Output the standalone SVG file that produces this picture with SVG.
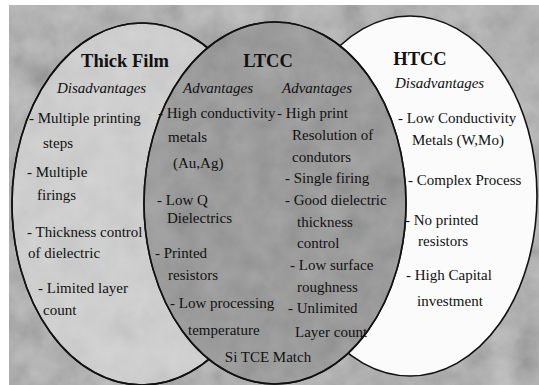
<svg xmlns="http://www.w3.org/2000/svg" width="539" height="385" viewBox="0 0 539 385">
<defs>
<filter id="noise" x="0" y="0" width="100%" height="100%">
<feTurbulence type="fractalNoise" baseFrequency="0.035" numOctaves="4" seed="7"/>
<feColorMatrix type="matrix" values="0.33 0.33 0.33 0 0  0.33 0.33 0.33 0 0  0.33 0.33 0.33 0 0  0 0 0 0 1"/>
</filter>
<clipPath id="clipTF"><ellipse cx="142" cy="204" rx="130" ry="181"/></clipPath>
<clipPath id="clipLT"><ellipse cx="275" cy="203" rx="131" ry="181"/></clipPath>
<style>
.ring{stroke:#111;stroke-width:1.6}
text{font-family:"Liberation Serif","Times New Roman",serif;fill:#111;font-size:15px}
.title{font-weight:bold;font-size:18.5px;text-anchor:middle}
.sub{font-style:italic;font-size:15px}
</style>
</defs>
<rect x="0" y="0" width="539" height="385" fill="#ffffff"/>
<rect x="9" y="5" width="530" height="380" fill="#a9a9a9"/>
<rect x="9" y="5" width="530" height="380" filter="url(#noise)" opacity="0.45"/>

<g id="thick-film">
<ellipse class="ring" cx="142" cy="204" rx="130" ry="181" fill="#d2d2d2"/>
<rect x="10" y="20" width="265" height="365" filter="url(#noise)" opacity="0.18" clip-path="url(#clipTF)"/>
<ellipse cx="142" cy="204" rx="130" ry="181" fill="none" class="ring"/>
<text class="title" x="125" y="67">Thick Film</text>
<text class="sub" x="57" y="93">Disadvantages</text>
<text x="29" y="123">- Multiple printing</text>
<text x="43" y="148">steps</text>
<text x="27" y="177">- Multiple</text>
<text x="37" y="200">firings</text>
<text x="27" y="237">- Thickness control</text>
<text x="28" y="258">of dielectric</text>
<text x="38" y="293">- Limited layer</text>
<text x="43" y="315">count</text>
</g>

<g id="htcc">
<ellipse class="ring" cx="410" cy="196" rx="127" ry="180" fill="#fbfbfb"/>
<text class="title" x="420" y="65">HTCC</text>
<text class="sub" x="395" y="88">Disadvantages</text>
<text x="398" y="123">- Low Conductivity</text>
<text x="412" y="145">Metals  (W,Mo)</text>
<text x="408" y="185">- Complex Process</text>
<text x="405" y="225">- No printed</text>
<text x="418" y="246">resistors</text>
<text x="406" y="280">- High Capital</text>
<text x="417" y="306">investment</text>
</g>

<g id="ltcc">
<ellipse class="ring" cx="275" cy="203" rx="131" ry="181" fill="#8e8e8e"/>
<rect x="140" y="20" width="270" height="365" filter="url(#noise)" opacity="0.3" clip-path="url(#clipLT)"/>
<ellipse cx="275" cy="203" rx="131" ry="181" fill="none" class="ring"/>
<text class="title" x="268" y="67">LTCC</text>
<text class="sub" x="183" y="93">Advantages</text>
<text x="158" y="118">- High conductivity</text>
<text x="168" y="142">metals</text>
<text x="173" y="168">(Au,Ag)</text>
<text x="157" y="205">- Low Q</text>
<text x="167" y="223">Dielectrics</text>
<text x="155" y="258">- Printed</text>
<text x="168" y="280">resistors</text>
<text x="170" y="308">- Low processing</text>
<text x="188" y="335">temperature</text>
<text class="sub" x="282" y="93">Advantages</text>
<text x="277" y="118">- High print</text>
<text x="292" y="140">Resolution of</text>
<text x="292" y="162">condutors</text>
<text x="285" y="183">- Single firing</text>
<text x="285" y="205">- Good dielectric</text>
<text x="297" y="227">thickness</text>
<text x="297" y="248">control</text>
<text x="290" y="270">- Low surface</text>
<text x="297" y="292">roughness</text>
<text x="288" y="313">- Unlimited</text>
<text x="295" y="337">Layer count</text>
<text x="268" y="362" style="text-anchor:middle">Si TCE Match</text>
</g>

<g id="connectors"/>
</svg>
